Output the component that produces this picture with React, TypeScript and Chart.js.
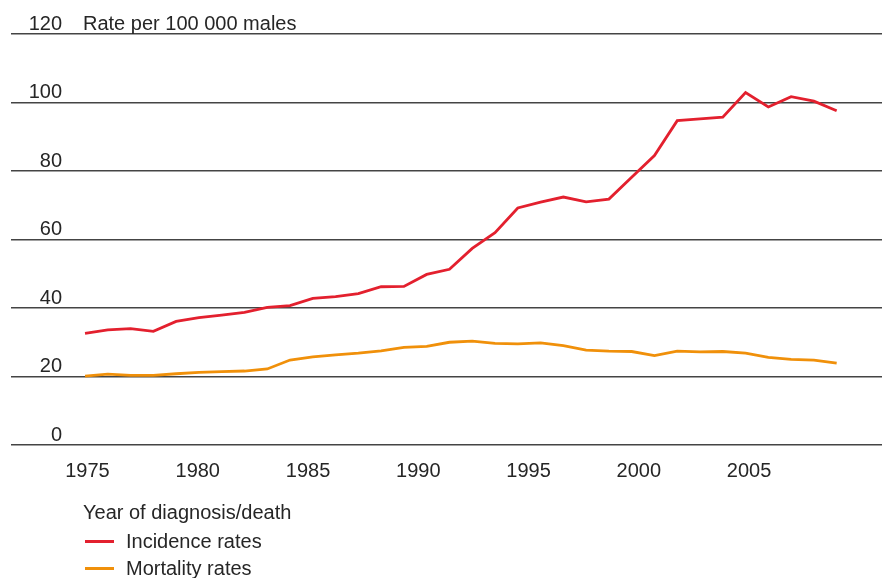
import React, { useEffect, useRef } from 'react';
import { Chart, registerables } from 'chart.js';

Chart.register(...registerables);

// ---- data ----
const years = [
  1975, 1976, 1977, 1978, 1979, 1980, 1981, 1982, 1983, 1984,
  1985, 1986, 1987, 1988, 1989, 1990, 1991, 1992, 1993, 1994,
  1995, 1996, 1997, 1998, 1999, 2000, 2001, 2002, 2003, 2004,
  2005, 2006, 2007, 2008,
];
const incidence = [
  32.6, 33.6, 34.0, 33.2, 36.1, 37.2, 37.9, 38.7, 40.2, 40.7,
  42.8, 43.3, 44.2, 46.2, 46.3, 49.8, 51.3, 57.4, 62.0, 69.2,
  70.9, 72.4, 71.0, 71.8, 78.2, 84.5, 94.7, 95.2, 95.7, 102.9,
  98.7, 101.7, 100.4, 97.6,
];
const mortality = [
  20.1, 20.7, 20.3, 20.3, 20.8, 21.2, 21.4, 21.6, 22.2, 24.8,
  25.7, 26.3, 26.8, 27.5, 28.5, 28.8, 30.0, 30.3, 29.7, 29.5,
  29.8, 29.0, 27.7, 27.4, 27.3, 26.1, 27.4, 27.2, 27.3, 26.8,
  25.6, 25.0, 24.8, 23.9,
];
const yTicks = [0, 20, 40, 60, 80, 100, 120];
const xTickLabels = [1975, 1980, 1985, 1990, 1995, 2000, 2005];
const seriesNames = ['Incidence rates', 'Mortality rates'];
const seriesColors = ['#e3202e', '#f0900a'];
const xTitle = 'Year of diagnosis/death';
const yUnit = 'Rate per 100 000 males';

// ---- styling ----
const FONT = "'Liberation Sans', Arial, sans-serif";
const FS = 20;
const TEXT = '#262626';
const W = 882;
const H = 578;

export default function App() {
  const canvasRef = useRef<HTMLCanvasElement | null>(null);

  useEffect(() => {
    const canvas = canvasRef.current;
    if (!canvas) return;
    const mctx = canvas.getContext('2d');
    let widest = 33;
    if (mctx) {
      mctx.font = `${FS}px ${FONT}`;
      widest = Math.max(...yTicks.map((t) => mctx.measureText(String(t)).width));
    }
    const leftPad = 11;
    const yLabelRight = 62;

    const unitLabel = {
      id: 'unitLabel',
      afterDraw(chart: any) {
        const { ctx, scales, chartArea } = chart;
        const y = scales.y;
        ctx.save();
        ctx.font = `${FS}px ${FONT}`;
        ctx.fillStyle = TEXT;
        ctx.textBaseline = 'middle';
        ctx.textAlign = 'left';
        ctx.fillText(yUnit, chartArea.left + 72, y.getPixelForValue(yTicks[yTicks.length - 1]) - 10);
        ctx.restore();
      },
    };

    const chart = new Chart(canvas, {
      type: 'line',
      data: {
        datasets: [
          {
            label: seriesNames[0],
            data: years.map((yr, i) => ({ x: yr, y: incidence[i] })),
            borderColor: seriesColors[0],
            backgroundColor: seriesColors[0],
            borderWidth: 2.8,
            pointRadius: 0,
            tension: 0,
            xAxisID: 'x',
            yAxisID: 'y',
          },
          {
            label: seriesNames[1],
            data: years.map((yr, i) => ({ x: yr, y: mortality[i] })),
            borderColor: seriesColors[1],
            backgroundColor: seriesColors[1],
            borderWidth: 2.8,
            pointRadius: 0,
            tension: 0,
            xAxisID: 'x',
            yAxisID: 'y',
          },
        ],
      },
      options: {
        responsive: false,
        maintainAspectRatio: false,
        animation: false,
        layout: { padding: { top: 34, left: leftPad, right: 0, bottom: 83 } },
        plugins: {
          legend: { display: false },
          tooltip: { enabled: false },
          title: { display: false },
        },
        scales: {
          x: {
            type: 'linear',
            display: false,
            min: 1971.75,
            max: 2009.99,
          },
          xl: {
            type: 'linear',
            position: 'bottom',
            min: 1971.531,
            max: 2011.03,
            grid: { display: false, drawTicks: false, tickLength: 0 },
            border: { display: false },
            afterBuildTicks: (scale: any) => {
              scale.ticks = xTickLabels.map((v) => ({ value: v }));
            },
            afterFit: (scale: any) => {
              scale.height = 50;
            },
            ticks: {
              padding: 14,
              color: TEXT,
              font: { family: FONT, size: FS },
              maxRotation: 0,
              autoSkip: false,
              callback: (v: any) => String(v),
            },
          },
          y: {
            type: 'linear',
            position: 'left',
            min: 0,
            max: 120,
            afterBuildTicks: (scale: any) => {
              scale.ticks = yTicks.map((v) => ({ value: v }));
            },
            afterFit: (scale: any) => {
              scale.width = 0;
            },
            grid: {
              color: '#444',
              lineWidth: 1.6,
              drawTicks: false,
              tickLength: 0,
            },
            border: { display: false },
            ticks: {
              mirror: true,
              crossAlign: 'far',
              padding: yLabelRight - leftPad - widest,
              labelOffset: -10,
              color: TEXT,
              font: { family: FONT, size: FS },
              callback: (v: any) => String(v),
            },
          },
        },
      },
      plugins: [unitLabel],
    });

    return () => {
      chart.destroy();
    };
  }, []);

  const rowStyle = (top: number): React.CSSProperties => ({
    position: 'absolute',
    left: 85,
    top,
    height: 28,
    lineHeight: '28px',
    display: 'flex',
    alignItems: 'center',
    whiteSpace: 'nowrap',
  });

  return (
    <div
      style={{
        position: 'absolute',
        left: 0,
        top: 0,
        width: W,
        height: H,
        overflow: 'hidden',
        background: '#fff',
        fontFamily: FONT,
        fontSize: FS,
        color: TEXT,
      }}
    >
      <canvas ref={canvasRef} width={W} height={H} style={{ display: 'block', width: W, height: H }} />
      <div style={{ position: 'absolute', left: 83, top: 498, lineHeight: '28px', whiteSpace: 'nowrap' }}>{xTitle}</div>
      {seriesNames.map((name, i) => (
        <div key={name} style={rowStyle(527 + i * 27)}>
          <span style={{ display: 'inline-block', width: 29, height: 3, background: seriesColors[i], marginRight: 12 }} />
          <span>{name}</span>
        </div>
      ))}
    </div>
  );
}
